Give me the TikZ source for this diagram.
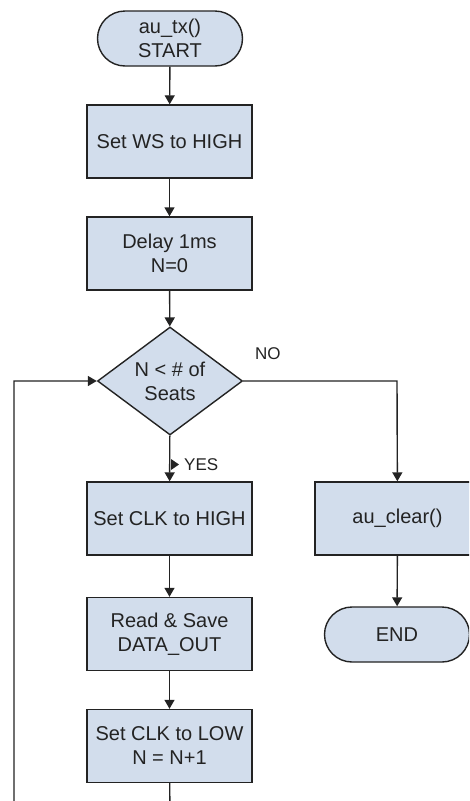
\documentclass[tikz,border=0pt]{standalone}
\usepackage{fontspec}
\setmainfont{Liberation Sans}
\usetikzlibrary{arrows.meta,shapes.geometric,shapes.misc}
\definecolor{boxfill}{RGB}{210,221,236}
\definecolor{ink}{RGB}{35,35,35}
\tikzset{
  base/.style={draw=ink, line width=1.4pt, fill=boxfill, text=ink, align=center,
    font=\fontsize{20}{24}\selectfont, inner sep=0pt},
  process/.style={base, rectangle, minimum width=165pt, minimum height=73pt},
  terminal/.style={base, rounded rectangle, minimum width=145pt, minimum height=55pt},
  decision/.style={base, diamond, aspect=1.34, minimum width=145pt, minimum height=108pt},
  flow/.style={draw=ink, line width=1.4pt, -{Triangle[width=10pt,length=9pt]}},
  branch/.style={text=ink, font=\fontsize{17}{20}\selectfont, inner sep=0pt}
}
\begin{document}
\begin{tikzpicture}[x=1pt,y=-1pt]
  \useasboundingbox (0,0) rectangle (469,801);
  \clip (0,0) rectangle (469,801);
  \fill[white] (0,0) rectangle (469,801);

  % main column
  \node[terminal] (start) at (170,38.5) {au\_tx()\\START};
  \node[process] (ws) at (169.5,141.5) {Set WS to HIGH};
  \node[process] (delay) at (169.5,253.5) {Delay 1ms\\N=0};
  \node[decision] (cond) at (170,381) {N {<} \# of\\Seats};
  \node[process] (clkhi) at (169.5,518.5) {Set CLK to HIGH};
  \node[process] (read) at (169.5,634) {Read \& Save\\DATA\_OUT};
  \node[process] (clklo) at (169.5,746) {Set CLK to LOW\\N = N+1};

  % exit column
  \node[process] (clear) at (397.5,518.5) {au\_clear()};
  \node[terminal] (end) at (397,634.5) {END};

  % loop-back route below the visible area
  \coordinate (lowR) at (170,830);
  \coordinate (lowL) at (14,830);
  \coordinate (upL) at (14,381);
  \coordinate (noR) at (397,381);

  \draw[flow] (start) -- (ws);
  \draw[flow] (ws) -- (delay);
  \draw[flow] (delay) -- (cond);
  \draw[flow] (cond) -- (clkhi);
  \draw[flow] (clkhi) -- (read);
  \draw[flow] (read) -- (clklo);
  \draw[flow] (cond.east) -- (noR) -- (clear);
  \draw[flow] (clear) -- (end);
  \draw[flow] (clklo) -- (lowR) -- (lowL) -- (upL) -- (cond.west);

  % branch labels
  \node[branch, anchor=west] (no) at (255,354) {NO};
  \node[branch, anchor=west] (yes) at (184,465) {YES};
  \fill[ink] (171,459) -- (179,464.5) -- (171,470) -- cycle;
\end{tikzpicture}
\end{document}
